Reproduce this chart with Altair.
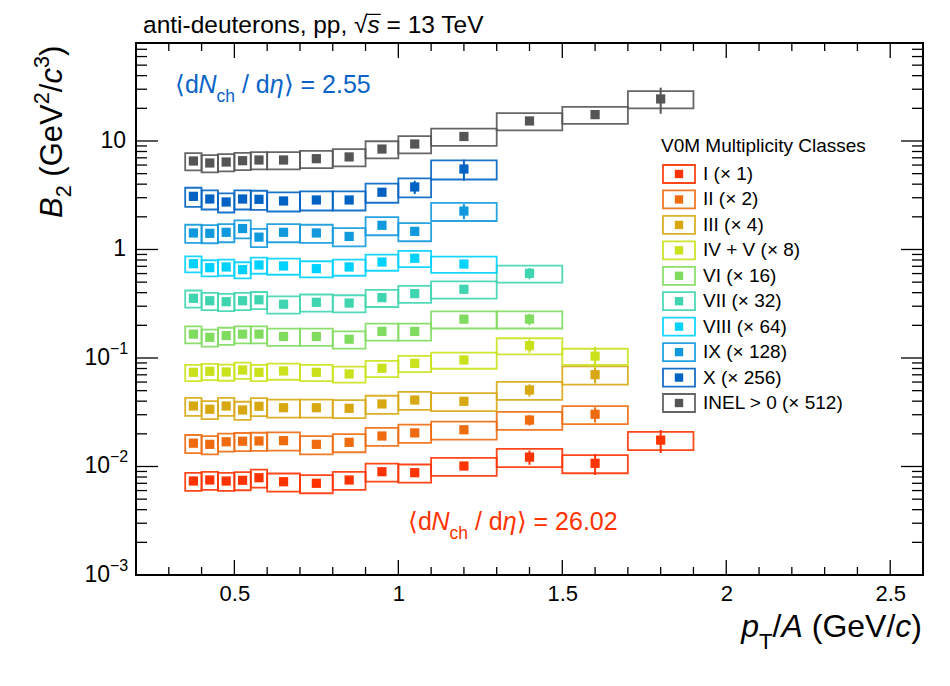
import altair as alt
import pandas as pd

FONT = "Liberation Sans"

# ------------------------------------------------------------------ data
bin_edges = [0.35, 0.40, 0.45, 0.50, 0.55, 0.60, 0.70, 0.80, 0.90, 1.00, 1.10, 1.30, 1.50, 1.70, 1.90]

classes = ["I (× 1)", "II (× 2)", "III (× 4)", "IV + V (× 8)", "VI (× 16)",
           "VII (× 32)", "VIII (× 64)", "IX (× 128)", "X (× 256)", "INEL > 0 (× 512)"]
colors = ["#ff3300", "#ee6c0f", "#d8a813", "#c9e21b", "#80dc5e",
          "#3fd5b0", "#00d2ff", "#1199dd", "#0062c2", "#555555"]

b2_I = [0.00735, 0.00751, 0.00735, 0.00746, 0.00788, 0.00724, 0.00700, 0.00751, 0.00895, 0.00877, 0.0101, 0.0122, 0.0107, 0.0175]
b2_II = [0.0164, 0.0160, 0.0169, 0.0171, 0.0172, 0.0173, 0.0160, 0.0167, 0.0191, 0.0204, 0.0218, 0.0268, 0.0303]
b2_III = [0.0361, 0.0337, 0.0361, 0.0332, 0.0359, 0.0348, 0.0348, 0.0344, 0.0377, 0.0410, 0.0399, 0.0507, 0.0702]
b2_IVV = [0.0738, 0.0754, 0.0743, 0.0775, 0.0738, 0.0759, 0.0738, 0.0713, 0.0804, 0.0893, 0.0959, 0.130, 0.104]
b2_VI = [0.166, 0.155, 0.161, 0.166, 0.166, 0.158, 0.158, 0.149, 0.176, 0.176, 0.228, 0.228]
b2_VII = [0.355, 0.337, 0.330, 0.337, 0.344, 0.313, 0.326, 0.321, 0.360, 0.392, 0.430, 0.603]
b2_VIII = [0.740, 0.680, 0.690, 0.652, 0.720, 0.705, 0.666, 0.690, 0.767, 0.830, 0.734]
b2_IX = [1.42, 1.41, 1.44, 1.56, 1.30, 1.44, 1.42, 1.32, 1.67, 1.47, 2.26]
b2_X = [3.09, 2.92, 2.74, 2.92, 2.90, 2.80, 2.86, 2.86, 3.37, 3.77, 5.52]
b2_INEL = [6.54, 6.27, 6.40, 6.58, 6.68, 6.68, 6.87, 7.13, 8.43, 9.38, 11.0, 15.3, 17.5, 24.4]

# relative statistical uncertainties
stat_I = [0.03, 0.03, 0.03, 0.03, 0.03, 0.03, 0.03, 0.03, 0.04, 0.04, 0.06, 0.15, 0.22, 0.24]
stat_II = [0.03, 0.03, 0.03, 0.03, 0.03, 0.03, 0.03, 0.03, 0.03, 0.04, 0.05, 0.11, 0.16]
stat_III = [0.03, 0.03, 0.03, 0.03, 0.03, 0.03, 0.03, 0.03, 0.03, 0.04, 0.05, 0.13, 0.17]
stat_IVV = [0.03, 0.03, 0.03, 0.03, 0.03, 0.03, 0.03, 0.03, 0.03, 0.04, 0.05, 0.14, 0.22]
stat_VI = [0.03, 0.03, 0.03, 0.03, 0.03, 0.03, 0.03, 0.03, 0.03, 0.04, 0.06, 0.12]
stat_VII = [0.03, 0.03, 0.03, 0.03, 0.03, 0.03, 0.03, 0.03, 0.03, 0.04, 0.06, 0.12]
stat_VIII = [0.03, 0.03, 0.03, 0.03, 0.03, 0.03, 0.03, 0.03, 0.03, 0.04, 0.06]
stat_IX = [0.03, 0.03, 0.03, 0.03, 0.03, 0.03, 0.03, 0.03, 0.04, 0.06, 0.16]
stat_X = [0.03, 0.03, 0.03, 0.03, 0.03, 0.03, 0.03, 0.03, 0.04, 0.14, 0.22]
stat_INEL = [0.03, 0.03, 0.03, 0.03, 0.03, 0.03, 0.03, 0.03, 0.03, 0.04, 0.04, 0.05, 0.09, 0.27]

# relative systematic uncertainty (box half-height) per class
sys_frac = [0.19, 0.19, 0.19, 0.17, 0.18, 0.18, 0.17, 0.19, 0.20, 0.18]

x_major = [0.5, 1.0, 1.5, 2.0, 2.5]
x_minor = [0.3, 0.4, 0.6, 0.7, 0.8, 0.9, 1.1, 1.2, 1.3, 1.4, 1.6, 1.7, 1.8, 1.9,
           2.1, 2.2, 2.3, 2.4]
y_major = [0.001, 0.01, 0.1, 1, 10]
y_minor = [0.002, 0.003, 0.004, 0.005, 0.006, 0.007, 0.008, 0.009,
           0.02, 0.03, 0.04, 0.05, 0.06, 0.07, 0.08, 0.09,
           0.2, 0.3, 0.4, 0.5, 0.6, 0.7, 0.8, 0.9,
           2, 3, 4, 5, 6, 7, 8, 9,
           20, 30, 40, 50, 60, 70, 80]
y_label_exp_vals = [0.001, 0.01, 0.1]
y_label_exp_text = ["−3", "−2", "−1"]
y_label_plain_vals = [1, 10]
y_label_plain_text = ["1", "10"]

values = [b2_I, b2_II, b2_III, b2_IVV, b2_VI, b2_VII, b2_VIII, b2_IX, b2_X, b2_INEL]
stats = [stat_I, stat_II, stat_III, stat_IVV, stat_VI, stat_VII, stat_VIII, stat_IX, stat_X, stat_INEL]

rows = []
for k, (cls, vals, st) in enumerate(zip(classes, values, stats)):
    for i, v in enumerate(vals):
        lo, hi = bin_edges[i], bin_edges[i + 1]
        rows.append(dict(cls=cls, order=k, xlo=lo, xhi=hi, xc=(lo + hi) / 2, b2=v,
                         sys_lo=v * (1 - sys_frac[k]), sys_hi=v * (1 + sys_frac[k]),
                         st_lo=v * (1 - st[i]), st_hi=v * (1 + st[i])))
df = pd.DataFrame(rows)

# ------------------------------------------------------------------ layout
W, H = 787, 532
xs = alt.Scale(domain=[0.2, 2.6], nice=False, zero=False)
ys = alt.Scale(type="log", domain=[0.001, 80], nice=False)
cs = alt.Scale(domain=classes, range=colors)
xaxis = alt.Axis(values=x_major, format="~g", ticks=False, tickSize=0, domain=False, grid=False,
                 labelFont=FONT, labelFontSize=22, labelColor="black", labelPadding=8, title=None)

layers = []

# systematic boxes
layers.append(alt.Chart(df).mark_rect(filled=False, strokeWidth=1.8, opacity=0.9).encode(
    x=alt.X("xlo:Q", scale=xs, axis=xaxis), x2="xhi:Q",
    y=alt.Y("sys_lo:Q", scale=ys, axis=None), y2="sys_hi:Q",
    color=alt.Color("cls:N", scale=cs, legend=None)))
# statistical bars
layers.append(alt.Chart(df).mark_rule(strokeWidth=2).encode(
    x=alt.X("xc:Q", scale=xs, axis=xaxis),
    y=alt.Y("st_lo:Q", scale=ys, axis=None), y2="st_hi:Q",
    color=alt.Color("cls:N", scale=cs, legend=None)))
# points
layers.append(alt.Chart(df).mark_square(size=85, opacity=1).encode(
    x=alt.X("xc:Q", scale=xs, axis=xaxis),
    y=alt.Y("b2:Q", scale=ys, axis=None),
    color=alt.Color("cls:N", scale=cs, legend=None)))

# ticks (inside, all four sides)
def xticks(vals, ln):
    d = pd.DataFrame({"t": vals})
    out = []
    for y0, y1 in [(H, H - ln), (0, ln)]:
        out.append(alt.Chart(d).mark_rule(color="black", strokeWidth=1.3).encode(
            x=alt.X("t:Q", scale=xs, axis=xaxis), y=alt.value(y0), y2=alt.value(y1)))
    return out

def yticks(vals, ln):
    d = pd.DataFrame({"t": vals})
    out = []
    for x0, x1 in [(0, ln), (W, W - ln)]:
        out.append(alt.Chart(d).mark_rule(color="black", strokeWidth=1.3).encode(
            y=alt.Y("t:Q", scale=ys, axis=None), x=alt.value(x0), x2=alt.value(x1)))
    return out

layers += xticks(x_major, 15) + xticks(x_minor, 8) + yticks(y_major, 22) + yticks(y_minor, 11)

# y tick labels
layers.append(alt.Chart(pd.DataFrame({"t": y_label_plain_vals, "s": y_label_plain_text})).mark_text(
    align="right", baseline="middle", font=FONT, fontSize=23, color="black").encode(
    y=alt.Y("t:Q", scale=ys, axis=None), x=alt.value(-10), text="s:N"))
layers.append(alt.Chart(pd.DataFrame({"t": y_label_exp_vals, "s": ["10"] * 3})).mark_text(
    align="right", baseline="middle", font=FONT, fontSize=23, color="black").encode(
    y=alt.Y("t:Q", scale=ys, axis=None), x=alt.value(-26), text="s:N"))
layers.append(alt.Chart(pd.DataFrame({"t": y_label_exp_vals, "s": y_label_exp_text})).mark_text(
    align="left", baseline="middle", font=FONT, fontSize=16, dy=-9, color="black").encode(
    y=alt.Y("t:Q", scale=ys, axis=None), x=alt.value(-26), text="s:N"))

# rich text helper (Helvetica metrics)
HW = {' ': 278, '(': 333, ')': 333, '/': 278, '.': 278, ',': 278, '=': 584, '>': 584, '+': 584,
      '×': 584, '-': 333, '−': 584, 'A': 667, 'B': 667, 'C': 722, 'E': 667, 'G': 778, 'I': 278,
      'L': 556, 'M': 833, 'N': 722, 'T': 611, 'V': 667, 'X': 667, 'a': 556, 'c': 500, 'd': 556,
      'e': 556, 'h': 556, 'i': 222, 'l': 222, 'n': 556, 'o': 556, 'p': 556, 'r': 333, 's': 500,
      't': 278, 'u': 556, 'y': 500, 'η': 556, '√': 549, '⟨': 380, '⟩': 380}

def tw(s, size):
    return sum(HW.get(c, 556) for c in s) * size / 1000.0

one = pd.DataFrame({"a": [0]})

def rich(segs, ax, ay, F, color="black", angle=0, sub_dy=0.3, sup_dy=-0.42):
    out = []
    cur = 0.0
    for text, kind in segs:
        size = F if kind in ("n", "i") else 0.7 * F
        dy = sub_dy * F if kind == "sub" else (sup_dy * F if kind == "sup" else 0)
        style = "italic" if kind == "i" else "normal"
        lead = len(text) - len(text.lstrip(" "))
        body = text.strip(" ")
        kw = dict(align="left", baseline="alphabetic", font=FONT, fontSize=size, fontStyle=style,
                  color=color, dx=cur + tw(" " * lead, size), dy=dy)
        if angle:
            kw["angle"] = angle
        out.append(alt.Chart(one).mark_text(**kw).encode(
            x=alt.value(ax), y=alt.value(ay), text=alt.value(body)))
        cur += tw(text, size)
    return out, cur

# title
tF = 24.5
t_segs = [("anti-deuterons, pp, ", "n"), ("√", "n"), ("s", "i"), (" = 13 TeV", "n")]
tl, _ = rich(t_segs, 7, -10, tF)
layers += tl
s_x0 = 7 + tw("anti-deuterons, pp, √", tF) - 1
layers.append(alt.Chart(one).mark_rule(color="black", strokeWidth=1.2).encode(
    x=alt.value(s_x0), x2=alt.value(s_x0 + tw("s", tF) + 2), y=alt.value(-10 - 0.76 * tF)))

# annotations
def dn_segs(val):
    return [("⟨d", "n"), ("N", "i"), ("ch", "sub"), (" / d", "n"), ("η", "i"), ("⟩ = " + val, "n")]

al, _ = rich(dn_segs("2.55"), 39, 50, 25, color="#0a64c8", sub_dy=0.36)
layers += al
al, _ = rich(dn_segs("26.02"), 272, 487, 25, color="#ff3300", sub_dy=0.36)
layers += al

# axis titles
xF = 32
x_segs = [("p", "i"), ("T", "sub"), ("/", "n"), ("A", "i"), (" (GeV/", "n"), ("c", "i"), (")", "n")]
x_len = sum(tw(t, xF if k in ("n", "i") else 0.7 * xF) for t, k in x_segs)
xl, _ = rich(x_segs, W - 1 - x_len, 594, xF, sub_dy=0.36)
layers += xl

yF = 31
y_segs = [("B", "i"), ("2", "sub"), (" (GeV", "n"), ("2", "sup"), ("/", "n"), ("c", "i"),
          ("3", "sup"), (")", "n")]
yl, _ = rich(y_segs, -74, 175, yF, angle=270)
layers += yl

# legend
leg_df = pd.DataFrame({"cls": classes})
leg_y = alt.Y("cls:N", scale=alt.Scale(type="point", domain=classes, range=[131, 360], padding=0),
              axis=None)
layers.append(alt.Chart(leg_df).mark_point(
    shape="M-1,-0.5625H1V0.5625H-1Z", size=1024, filled=False, strokeWidth=1.8, opacity=0.9).encode(
    x=alt.value(543), y=leg_y, color=alt.Color("cls:N", scale=cs, legend=None)))
layers.append(alt.Chart(leg_df).mark_square(size=70, opacity=1).encode(
    x=alt.value(543), y=leg_y, color=alt.Color("cls:N", scale=cs, legend=None)))
layers.append(alt.Chart(leg_df).mark_text(align="left", baseline="middle", font=FONT, fontSize=19,
                                          color="black").encode(
    x=alt.value(567), y=leg_y, text="cls:N"))
layers.append(alt.Chart(one).mark_text(align="left", baseline="middle", font=FONT, fontSize=19,
                                       color="black").encode(
    x=alt.value(525), y=alt.value(103), text=alt.value("V0M Multiplicity Classes")))

chart = alt.layer(*layers).resolve_scale(y="independent").properties(
    width=W, height=H,
    padding={"left": 128, "top": 35, "right": 15, "bottom": 90},
    autosize=alt.AutoSizeParams(type="none"),
    background="white",
).configure_view(stroke="black", strokeWidth=2)

chart.save("out.html", embed_options={"renderer": "svg", "actions": False})
